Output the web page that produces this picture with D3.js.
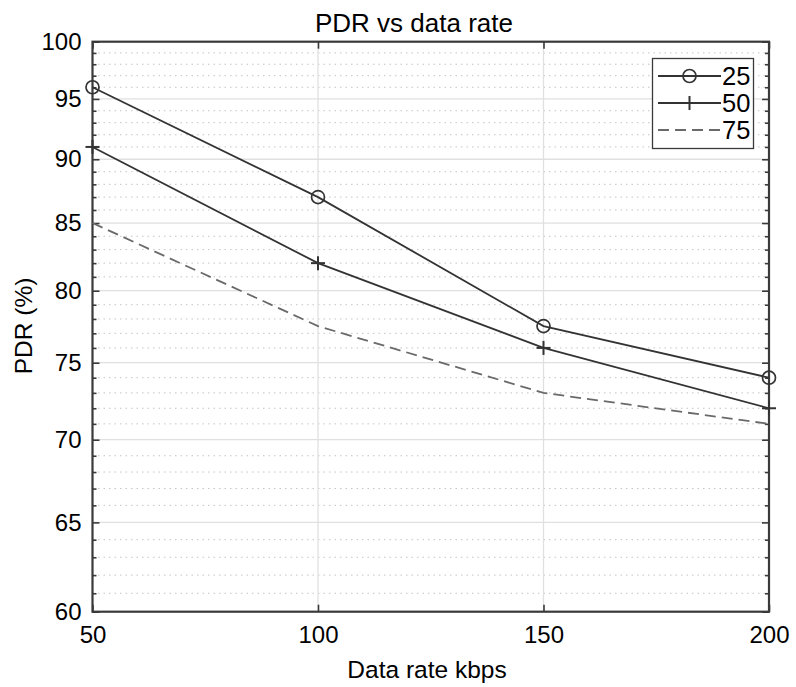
<!DOCTYPE html>
<html>
<head>
<meta charset="utf-8">
<script src="https://cdn.jsdelivr.net/npm/d3@7"></script>
<style>
  body { margin: 0; background: #fff; }
  text { font-family: "Liberation Sans", Arial, sans-serif; fill: #000; }
</style>
</head>
<body>
<svg id="chart" width="796" height="687"></svg>
<script>
// Data
const dataRates = [50, 100, 150, 200]
const pdr25 = [96, 87, 77.5, 74]
const pdr50 = [91, 82, 76, 72]
const pdr75 = [85, 77.5, 73, 71]
const seriesNames = ['25', '50', '75']
const xTicks = [50, 100, 150, 200]
const yTicks = [60, 65, 70, 75, 80, 85, 90, 95, 100]

const svg = d3.select('#chart')
const margin = { left: 92.5, right: 27, top: 41.7, bottom: 75.3 }
const width = 796, height = 687
const x0 = margin.left, x1 = width - margin.right
const y0 = height - margin.bottom, y1 = margin.top

const x = d3.scaleLinear().domain([50, 200]).range([x0, x1])
const y = d3.scaleLog().domain([60, 100]).range([y0, y1])

const axisColor = '#3a3a3a'
const lineColor = '#333'

// minor values every 1 unit
const yMinor = d3.range(60, 101).filter(v => v % 5 !== 0)

const grid = svg.append('g')
// minor dotted
grid.selectAll('.minor')
  .data(yMinor)
  .join('line')
  .attr('x1', x0).attr('x2', x1)
  .attr('y1', d => y(d)).attr('y2', d => y(d))
  .attr('stroke', '#c4c4c4')
  .attr('stroke-width', 1)
  .attr('stroke-dasharray', '1.5,4')
// major solid
grid.selectAll('.majorY')
  .data(yTicks.slice(1, -1))
  .join('line')
  .attr('x1', x0).attr('x2', x1)
  .attr('y1', d => y(d)).attr('y2', d => y(d))
  .attr('stroke', '#e0e0e0')
  .attr('stroke-width', 1.3)
grid.selectAll('.majorX')
  .data(xTicks.slice(1, -1))
  .join('line')
  .attr('x1', d => x(d)).attr('x2', d => x(d))
  .attr('y1', y0).attr('y2', y1)
  .attr('stroke', '#e0e0e0')
  .attr('stroke-width', 1.3)

// axes with inside ticks
const leftAxis = svg.append('g').attr('transform', `translate(${x0},0)`)
  .call(d3.axisLeft(y).tickValues(yTicks).tickFormat(d3.format('d')).tickSizeInner(-7).tickSizeOuter(0).tickPadding(11))
const rightAxis = svg.append('g').attr('transform', `translate(${x1},0)`)
  .call(d3.axisRight(y).tickValues(yTicks).tickFormat('').tickSizeInner(-7).tickSizeOuter(0))
const leftMinor = svg.append('g').attr('transform', `translate(${x0},0)`)
  .call(d3.axisLeft(y).tickValues(yMinor).tickFormat('').tickSizeInner(-4).tickSizeOuter(0))
const rightMinor = svg.append('g').attr('transform', `translate(${x1},0)`)
  .call(d3.axisRight(y).tickValues(yMinor).tickFormat('').tickSizeInner(-4).tickSizeOuter(0))
const bottomAxis = svg.append('g').attr('transform', `translate(0,${y0})`)
  .call(d3.axisBottom(x).tickValues(xTicks).tickSizeInner(-7).tickSizeOuter(0).tickPadding(14))
const topAxis = svg.append('g').attr('transform', `translate(0,${y1})`)
  .call(d3.axisTop(x).tickValues(xTicks).tickFormat('').tickSizeInner(-7).tickSizeOuter(0))

;[leftAxis, rightAxis, leftMinor, rightMinor, bottomAxis, topAxis].forEach(g => {
  g.select('.domain').remove()
  g.selectAll('.tick line').attr('stroke', axisColor).attr('stroke-width', 1.6)
  g.selectAll('.tick text').attr('font-size', 24).attr('fill', '#000')
    .style('font-family', '"Liberation Sans", Arial, sans-serif')
})
bottomAxis.selectAll('.tick text').attr('dy', '0.71em')

// plot box
svg.append('rect')
  .attr('x', x0).attr('y', y1)
  .attr('width', x1 - x0).attr('height', y0 - y1)
  .attr('fill', 'none')
  .attr('stroke', axisColor)
  .attr('stroke-width', 2.2)

const line = d3.line().x((d, i) => x(dataRates[i])).y(d => y(d))

const series = [
  { name: seriesNames[0], values: pdr25, marker: 'circle', dash: null, color: lineColor },
  { name: seriesNames[1], values: pdr50, marker: 'plus', dash: null, color: lineColor },
  { name: seriesNames[2], values: pdr75, marker: null, dash: '11,6', color: '#6a6a6a' },
]

function drawMarker(g, type, cx, cy, color) {
  if (type === 'circle') {
    g.append('circle').attr('cx', cx).attr('cy', cy).attr('r', 6.5)
      .attr('fill', 'none').attr('stroke', color).attr('stroke-width', 1.7)
  } else if (type === 'plus') {
    g.append('line').attr('x1', cx - 7).attr('x2', cx + 7).attr('y1', cy).attr('y2', cy)
      .attr('stroke', color).attr('stroke-width', 2)
    g.append('line').attr('x1', cx).attr('x2', cx).attr('y1', cy - 7).attr('y2', cy + 7)
      .attr('stroke', color).attr('stroke-width', 2)
  }
}

const plot = svg.append('g')
series.forEach(s => {
  plot.append('path')
    .datum(s.values)
    .attr('d', line)
    .attr('fill', 'none')
    .attr('stroke', s.color)
    .attr('stroke-width', 1.8)
    .attr('stroke-dasharray', s.dash)
  s.values.forEach((v, i) => drawMarker(plot, s.marker, x(dataRates[i]), y(v), s.color))
})

// legend
const legend = svg.append('g')
legend.append('rect')
  .attr('x', 652.5).attr('y', 58.5).attr('width', 101).attr('height', 90)
  .attr('fill', '#fff').attr('stroke', axisColor).attr('stroke-width', 1.3)
series.forEach((s, i) => {
  const ly = 76 + i * 27
  legend.append('line')
    .attr('x1', 658).attr('x2', 721).attr('y1', ly).attr('y2', ly)
    .attr('stroke', s.color).attr('stroke-width', 1.8)
    .attr('stroke-dasharray', s.dash)
  drawMarker(legend, s.marker, 689.5, ly, s.color)
  legend.append('text')
    .attr('x', 722).attr('y', ly).attr('dy', '0.36em')
    .attr('font-size', 25.5)
    .text(s.name)
})

// title and axis labels
svg.append('text')
  .attr('x', 414).attr('y', 32)
  .attr('text-anchor', 'middle')
  .attr('font-size', 26)
  .text('PDR vs data rate')

svg.append('text')
  .attr('x', 427).attr('y', 678)
  .attr('text-anchor', 'middle')
  .attr('font-size', 24.5)
  .text('Data rate kbps')

svg.append('text')
  .attr('transform', 'translate(32,326) rotate(-90)')
  .attr('text-anchor', 'middle')
  .attr('font-size', 24.5)
  .text('PDR (%)')
</script>
</body>
</html>
